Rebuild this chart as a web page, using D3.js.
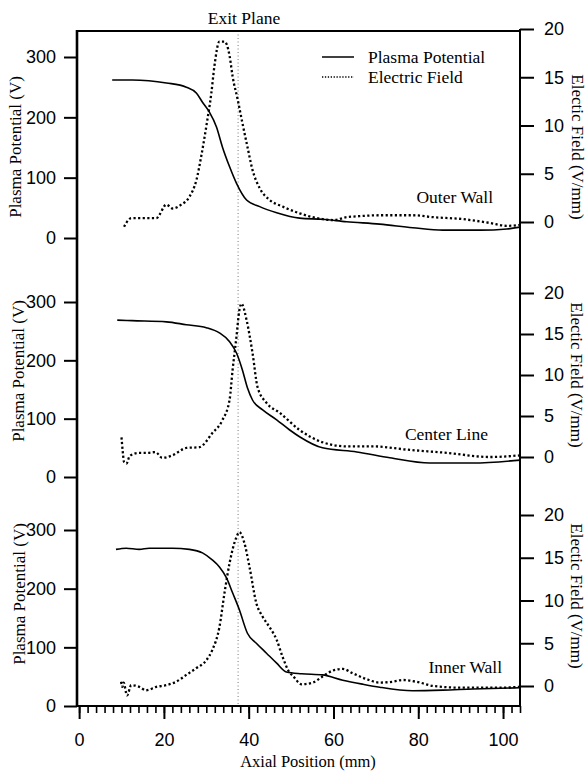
<!DOCTYPE html>
<html>
<head>
<meta charset="utf-8">
<script src="https://cdn.jsdelivr.net/npm/d3@7"></script>
<style>
  body { margin: 0; background: #fff; }
  svg { display: block; font-family: "Liberation Serif", "Times New Roman", serif; }
</style>
</head>
<body>
<div id="chart"></div>
<script>
// ---- data ----
const xTicks = [0, 20, 40, 60, 80, 100];
const xMinor = d3.range(0, 105, 2);
const vTicks = [0, 100, 200, 300];
const eTicks = [0, 5, 10, 15, 20];
const panelNames = ["Outer Wall", "Center Line", "Inner Wall"];
const exitPlane = 37.5;

// Outer wall
const outerPotX = [7.8, 12.5, 20.6, 25.3, 27.7, 29.1, 30.7, 32.4, 33.8, 35.5, 37.1, 39.5, 42.6, 46.6, 52.0, 57.4, 63.1, 70.9, 78.7, 85.8, 94.6, 100.9, 104];
const outerPotV = [262, 262, 257, 250, 240, 225, 209, 184, 151, 118, 91, 63, 52, 42, 33, 31, 27, 23, 17, 13, 13, 15, 18];
const outerEX = [10.6, 11.6, 12.3, 15, 18.2, 20.6, 22.0, 24.1, 26.0, 27.7, 28.8, 30.0, 31.2, 31.9, 33.1, 34.3, 35.5, 36.2, 37.4, 38.5, 39.7, 40.9, 42.6, 44.9, 48.0, 52.0, 57.4, 60, 63.1, 66, 70.9, 78.7, 83.5, 90.5, 96.9, 100.9, 104];
const outerE = [-0.5, 0.2, 0.4, 0.4, 0.4, 1.8, 1.4, 1.8, 2.6, 4.4, 6.8, 9.9, 13.4, 16.1, 18.7, 18.7, 17.2, 15.1, 12.7, 10.3, 7.8, 5.4, 3.5, 2.3, 1.6, 0.9, 0.3, 0.2, 0.5, 0.6, 0.7, 0.7, 0.5, 0.3, -0.1, -0.4, -0.3];

// Center line
const centerPotX = [9.0, 12.5, 20.6, 25.3, 30.0, 33.1, 35.5, 37.1, 38.5, 39.7, 40.9, 43.3, 46.6, 49.6, 52.0, 57.4, 65.5, 73.3, 82.7, 92.9, 104];
const centerPotV = [269, 268, 266, 261, 256, 247, 232, 213, 184, 153, 132, 115, 98, 81, 69, 50, 43, 33, 24, 24, 29];
const centerEX = [10.0, 10.3, 10.6, 11.2, 11.8, 12.5, 14, 15.8, 18, 19.6, 22, 25.3, 28.4, 31.4, 33.8, 35.5, 36.2, 37.1, 37.8, 38.3, 39.5, 40.9, 42.1, 44.2, 47.3, 52.0, 57.4, 63.1, 69.3, 77.3, 86.8, 96.9, 104];
const centerE = [2.4, 0.6, -0.6, -0.8, 0.0, 0.3, 0.5, 0.5, 0.6, -0.1, 0.2, 1.1, 1.2, 2.9, 4.5, 7.0, 10.6, 14.6, 17.9, 18.7, 16.7, 12.7, 8.5, 6.6, 5.4, 3.3, 1.8, 1.3, 1.3, 0.9, 0.5, 0.0, 0.2];

// Inner wall
const innerPotX = [8.7, 11.1, 14.2, 16.5, 22.0, 26.0, 29.1, 31.4, 33.1, 34.8, 36.2, 37.8, 39.7, 41.8, 44.2, 46.6, 48.9, 52.5, 57.4, 62.2, 67, 70.9, 78.7, 85.8, 92.9, 104];
const innerPotV = [267, 269, 267, 269, 269, 267, 261, 249, 237, 218, 193, 164, 124, 107, 90, 73, 58, 55, 53, 44, 37, 32, 26, 27, 29, 31];
const innerEX = [9.9, 10.2, 10.5, 11.3, 12.3, 14.2, 15.8, 18.2, 20.6, 22.9, 25.3, 27.7, 30.0, 31.4, 33.1, 34.3, 35.5, 37.1, 37.8, 39.0, 40.2, 41.8, 43.3, 44.9, 46.6, 48.0, 49.6, 50.4, 52.5, 55.1, 57.4, 59.8, 62.2, 64.5, 67.8, 70.9, 74.0, 76.4, 80.4, 83.5, 90.5, 98.6, 104];
const innerE = [0.5, -0.1, 0.4, -1.1, 0.1, -0.1, -0.5, -0.1, 0.1, 0.5, 1.3, 2.1, 3.0, 4.2, 6.9, 10.9, 14.4, 17.4, 18.0, 16.7, 13.9, 9.7, 8.1, 6.9, 5.4, 3.4, 1.6, 1.2, 0.2, 0.4, 1.1, 1.8, 2.0, 1.5, 0.8, 0.4, 0.5, 0.7, 0.4, 0.0, -0.2, -0.2, -0.1];

const potX = [outerPotX, centerPotX, innerPotX];
const potV = [outerPotV, centerPotV, innerPotV];
const fieldX = [outerEX, centerEX, innerEX];
const fieldE = [outerE, centerE, innerE];

// ---- layout ----
const W = 587, H = 772;
const plotL = 77, plotR = 520, plotT = 31, plotB = 706;
// pixel positions of 0/300 V and 0/20 V/mm per panel
const vRange = [[238, 57], [477, 302], [706, 530]];
const eRange = [[222, 29], [457, 293], [686, 515]];
const nameSpot = [[493, 203], [488, 440], [502, 673]];
const leftTitleSpot = [[21, 147], [24, 371], [25, 594]];
const rightTitleSpot = [[572, 147], [571, 375], [571, 596]];

const svg = d3.select("#chart").append("svg")
  .attr("width", W).attr("height", H);

const x = d3.scaleLinear().domain([-0.5, 104]).range([plotL, plotR]);

// exit plane
svg.append("line")
  .attr("x1", x(exitPlane)).attr("x2", x(exitPlane))
  .attr("y1", plotT).attr("y2", plotB)
  .attr("stroke", "#777").attr("stroke-width", 1)
  .attr("stroke-dasharray", "1,2.5");

svg.append("text")
  .attr("x", 244).attr("y", 24)
  .attr("text-anchor", "middle")
  .style("font-size", "17.5px")
  .text("Exit Plane");

panelNames.forEach((name, i) => {
  const yV = d3.scaleLinear().domain([0, 300]).range(vRange[i]);
  const yE = d3.scaleLinear().domain([0, 20]).range(eRange[i]);

  const potLine = d3.line()
    .x((d, j) => x(potX[i][j]))
    .y(d => yV(d))
    .curve(d3.curveMonotoneX);
  const fieldLine = d3.line()
    .x((d, j) => x(fieldX[i][j]))
    .y(d => yE(d))
    .curve(d3.curveMonotoneX);

  svg.append("path")
    .datum(potV[i])
    .attr("d", potLine)
    .attr("fill", "none")
    .attr("stroke", "#000")
    .attr("stroke-width", 1.6);

  svg.append("path")
    .datum(fieldE[i])
    .attr("d", fieldLine)
    .attr("fill", "none")
    .attr("stroke", "#000")
    .attr("stroke-width", 2.3)
    .attr("stroke-dasharray", "2.2,2.4");

  // left axis ticks
  const gl = svg.append("g")
    .attr("transform", `translate(${plotL},0)`)
    .call(d3.axisLeft(yV).tickValues(vTicks).tickSize(13).tickPadding(8));
  gl.select(".domain").remove();
  gl.selectAll("line").attr("stroke-width", 2);
  gl.selectAll("text").style("font-size", "18px").attr("fill", "#000");

  // right axis ticks
  const gr = svg.append("g")
    .attr("transform", `translate(${plotR},0)`)
    .call(d3.axisRight(yE).tickValues(eTicks).tickSize(14).tickPadding(10));
  gr.select(".domain").remove();
  gr.selectAll("line").attr("stroke-width", 2);
  gr.selectAll("text").style("font-size", "18px").attr("fill", "#000");

  // panel label
  svg.append("text")
    .attr("x", nameSpot[i][0]).attr("y", nameSpot[i][1])
    .attr("text-anchor", "end")
    .style("font-size", "17.5px")
    .text(name);

  // axis titles
  svg.append("text")
    .attr("transform", `translate(${leftTitleSpot[i][0]},${leftTitleSpot[i][1]}) rotate(-90)`)
    .attr("text-anchor", "middle")
    .style("font-size", "17px")
    .text("Plasma Potential (V)");

  svg.append("text")
    .attr("transform", `translate(${rightTitleSpot[i][0]},${rightTitleSpot[i][1]}) rotate(90)`)
    .attr("text-anchor", "middle")
    .style("font-size", "17px")
    .text("Electic Field (V/mm)");
});

// frame: top line, left and right axes
svg.append("line")
  .attr("x1", plotL - 1).attr("x2", plotR).attr("y1", plotT).attr("y2", plotT)
  .attr("stroke", "#000").attr("stroke-width", 2);
svg.append("line")
  .attr("x1", plotL).attr("x2", plotL).attr("y1", plotT - 1).attr("y2", plotB + 1)
  .attr("stroke", "#000").attr("stroke-width", 2.6);
svg.append("line")
  .attr("x1", plotR).attr("x2", plotR).attr("y1", plotT - 2).attr("y2", plotB + 1)
  .attr("stroke", "#000").attr("stroke-width", 2);

// bottom axis
const gMinor = svg.append("g")
  .attr("transform", `translate(0,${plotB})`)
  .call(d3.axisBottom(x).tickValues(xMinor).tickSize(7).tickFormat(""));
gMinor.select(".domain").remove();
gMinor.selectAll("line").attr("stroke-width", 1.6);

const gx = svg.append("g")
  .attr("transform", `translate(0,${plotB})`)
  .call(d3.axisBottom(x).tickValues(xTicks).tickSize(13).tickPadding(14));
gx.select(".domain").remove();
gx.selectAll("line").attr("stroke-width", 2);
gx.selectAll("text").style("font-size", "18px").attr("fill", "#000");

svg.append("line")
  .attr("x1", plotL - 1).attr("x2", plotR + 1).attr("y1", plotB).attr("y2", plotB)
  .attr("stroke", "#000").attr("stroke-width", 2);

svg.append("text")
  .attr("x", 308).attr("y", 767)
  .attr("text-anchor", "middle")
  .style("font-size", "16.5px")
  .text("Axial Position (mm)");

// legend
const legend = svg.append("g");
legend.append("line")
  .attr("x1", 322).attr("x2", 354).attr("y1", 57).attr("y2", 57)
  .attr("stroke", "#000").attr("stroke-width", 1.5);
legend.append("line")
  .attr("x1", 322).attr("x2", 354).attr("y1", 77).attr("y2", 77)
  .attr("stroke", "#000").attr("stroke-width", 1.6)
  .attr("stroke-dasharray", "1.3,1.6");
legend.append("text")
  .attr("x", 368).attr("y", 63)
  .style("font-size", "17.5px")
  .text("Plasma Potential");
legend.append("text")
  .attr("x", 368).attr("y", 83)
  .style("font-size", "17.5px")
  .text("Electric Field");
</script>
</body>
</html>
